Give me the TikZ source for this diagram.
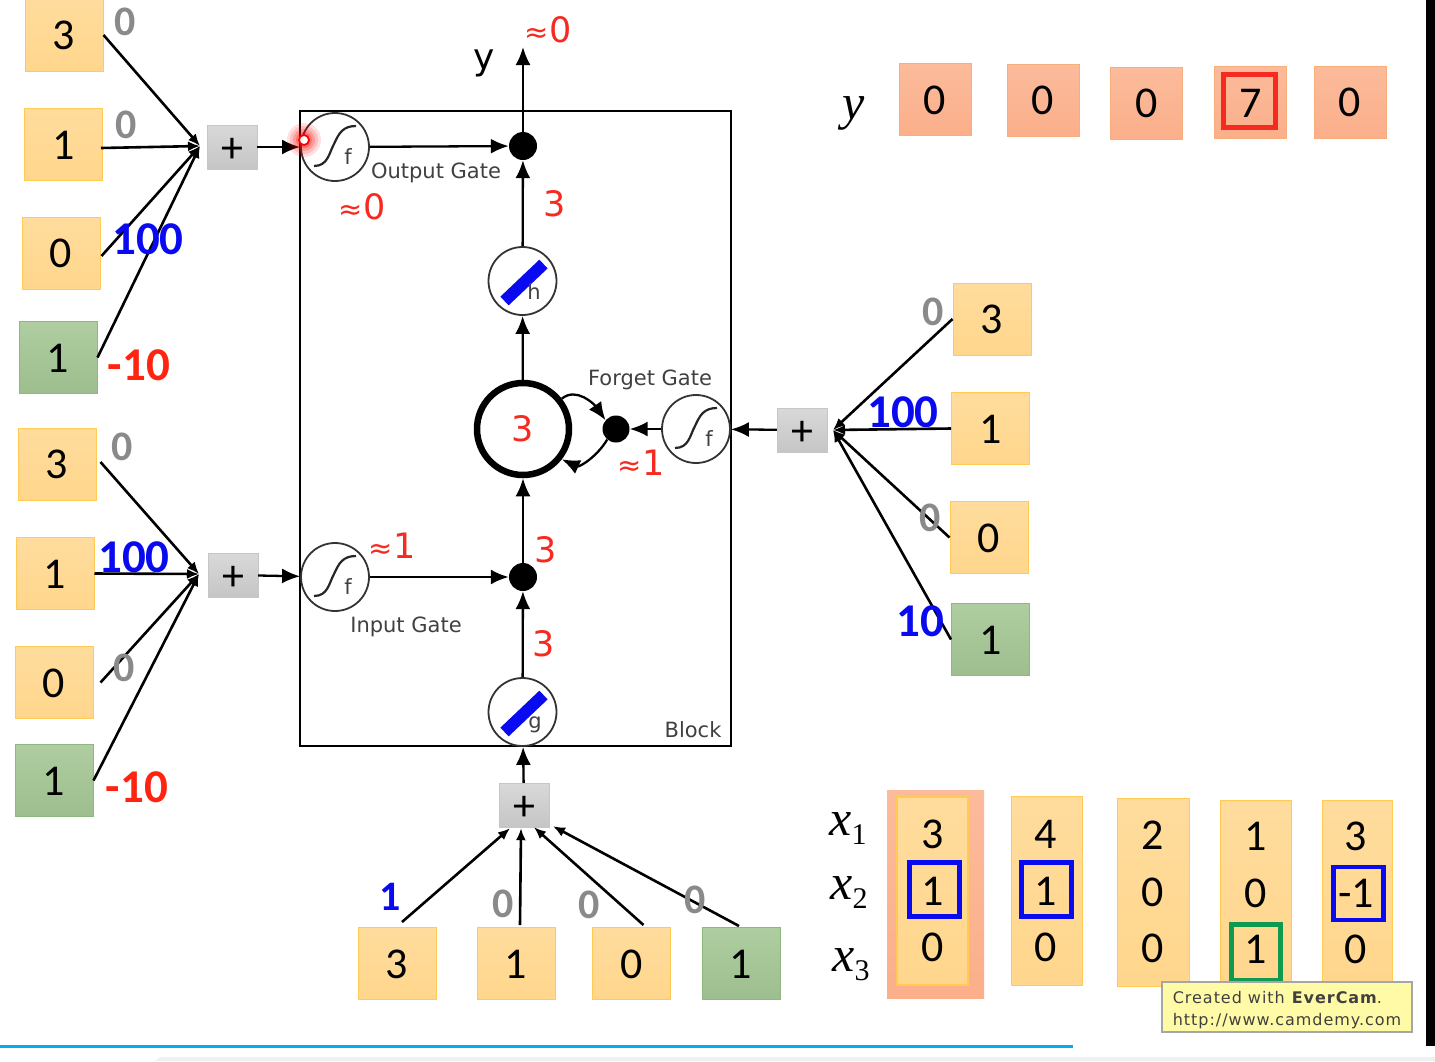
\documentclass[tikz,border=0pt]{standalone}
\usepackage{fontspec}
\setmainfont{Carlito}
\newfontfamily\dejafont{DejaVu Sans}
\newfontfamily\markfont[LetterSpace=6]{DejaVu Sans}
\newfontfamily\varfont{Liberation Serif}
\usetikzlibrary{arrows.meta,calc}
\definecolor{yelfill}{HTML}{FFD68C}
\definecolor{yelline}{HTML}{FFCB55}
\definecolor{grnfill}{HTML}{A6C896}
\definecolor{grnline}{HTML}{8FB880}
\definecolor{salfill}{HTML}{FBAF8A}
\definecolor{salline}{HTML}{F6AE7C}
\definecolor{pointred}{HTML}{F52A20}
\definecolor{wgtgray}{HTML}{8A8A8A}
\definecolor{wgtblue}{HTML}{0A0AF0}
\definecolor{wgtred}{HTML}{FF2410}
\definecolor{boxgreen}{HTML}{0F9A50}
\definecolor{rulecyan}{HTML}{00AEEF}
\newcommand{\aprx}{{\fontsize{29}{29}\selectfont ≈}}
\newcommand{\varsub}[1]{\textit{x}\raisebox{-9pt}{\fontsize{30}{30}\selectfont #1}}
\tikzset{
  numbox/.style={minimum width=78pt, minimum height=72pt, inner sep=0pt, line width=1pt, text height=30pt,
    font=\fontsize{44}{44}\selectfont},
  yelbox/.style={numbox, draw=yelline, top color=yelfill!85!white, bottom color=yelfill},
  grnbox/.style={numbox, draw=grnline, top color=grnfill!90!white, bottom color=grnfill!95!black},
  salbox/.style={numbox, draw=salline, minimum width=72pt, top color=salfill!85!white, bottom color=salfill},
  addbox/.style={draw=gray!45, top color=gray!30, bottom color=gray!45, minimum width=50pt, minimum height=44pt,
    inner sep=0pt, text height=30pt, text depth=0pt, font=\fontsize{44}{44}\selectfont},
  gatecirc/.style={circle, draw=black!80, fill=white, line width=1.8pt, minimum size=68pt, inner sep=0pt},
  dotnode/.style={circle, fill=black, minimum size=28pt, inner sep=0pt},
  cellcirc/.style={circle, draw=black, fill=white, line width=6.5pt, minimum size=92pt, inner sep=0pt},
  line/.style={draw=black, line width=2.6pt, -{Latex[length=12pt,width=10pt]}},
  thinline/.style={draw=black, line width=2.3pt, -{Latex[length=18pt,width=15pt]}},
  wgt/.style={font=\fontsize{42}{42}\selectfont\bfseries, inner sep=0pt},
  wgtwide/.style={font=\fontsize{47}{47}\selectfont\bfseries, inner sep=0pt},
  redtxt/.style={text=pointred, font=\dejafont\fontsize{35}{35}\selectfont, inner sep=0pt},
  gatetxt/.style={text=black!75, font=\dejafont\fontsize{21}{21}\selectfont, inner sep=0pt},
  digit/.style={font=\fontsize{44}{44}\selectfont, inner sep=0pt},
  varlab/.style={font=\varfont\fontsize{50}{50}\selectfont, inner sep=0pt},
  sigm/.pic={
    \draw[line width=2.2pt, black!85] (-21,19) .. controls (-7,19) and (-6,6) .. (-1,-3) .. controls (4,-14) and (8,-21) .. (21,-21);
    \node[gatetxt] at (13,10) {f};
  },
  linbar/.pic={
    \draw[line width=12pt, wgtblue] (-18,20) -- (21,-17);
  }
}
\begin{document}
\begin{tikzpicture}[x=1pt, y=-1pt]
  \useasboundingbox (0,0) rectangle (1435,1061);
  % window edges
  \fill[black] (1426,0) rectangle (1435,1046);
  \fill[gray!12] (155,1061) -- (160,1057) -- (1435,1057) -- (1435,1061) -- cycle;
  \fill[rulecyan] (0,1045) rectangle (1073,1047.5);

  % block and gates
  \node[draw=black, line width=2.8pt, minimum width=431pt, minimum height=635pt, inner sep=0pt] (block) at (515.5,428.5) {};
  \node[gatecirc] (outf) at (335,147) {};
  \node[gatecirc] (inf) at (335,577) {};
  \node[gatecirc] (forf) at (696,429) {};
  \node[gatecirc] (hact) at (522.5,281) {};
  \node[gatecirc] (gact) at (522.5,712) {};
  \pic at (outf) {sigm};
  \pic at (inf) {sigm};
  \pic at (forf) {sigm};
  \pic at (hact) {linbar};
  \pic at (gact) {linbar};
  \node[gatetxt] (hlab) at (534,292) {h};
  \node[gatetxt] (glab) at (535,725) {g};
  \node[dotnode] (outdot) at (523,146) {};
  \node[dotnode] (indot) at (523,577) {};
  \node[dotnode, minimum size=27pt] (fordot) at (616,429) {};
  \node[cellcirc] (cell) at (523,429) {};
  \node[redtxt] (cellval) at (523,429) {3};
  \coordinate (ytop) at (523,47);

  % adders
  \node[addbox] (addout) at (232,147) {+};
  \node[addbox] (addin) at (233,575) {+};
  \node[addbox] (addfor) at (802,430) {+};
  \node[addbox] (addcell) at (524,805) {+};
  \coordinate (joinout) at (200,146);
  \coordinate (joinin) at (199,574);
  \coordinate (joinfor) at (833,430);

  % input boxes, output gate
  \node[yelbox] (oa) at (64,35) {3};
  \node[yelbox] (ob) at (63.5,144) {1};
  \node[yelbox] (oc) at (61,253) {0};
  \node[grnbox] (od) at (58,357.5) {1};
  % input boxes, input gate
  \node[yelbox] (ia) at (57,464) {3};
  \node[yelbox] (ib) at (55,573.5) {1};
  \node[yelbox] (ic) at (54,682.5) {0};
  \node[grnbox] (id) at (54,780.5) {1};
  % input boxes, forget gate
  \node[yelbox] (fa) at (992,319) {3};
  \node[yelbox] (fb) at (990.5,428.5) {1};
  \node[yelbox] (fc) at (989,537.5) {0};
  \node[grnbox] (fd) at (990.5,639.5) {1};
  % input boxes, cell
  \node[yelbox] (ca) at (397,963.5) {3};
  \node[yelbox] (cb) at (516,963.5) {1};
  \node[yelbox] (cc) at (631.5,963.5) {0};
  \node[grnbox] (cd) at (741,963.5) {1};

  % connectors
  \draw[line] (oa.east) -- (joinout);
  \draw[line] ($(ob.east)+(-2,4)$) -- (joinout);
  \draw[line] ($(oc.east)+(1,3)$) -- (joinout);
  \draw[line] (od.east) -- (joinout);
  \draw[line] ($(ia.east)+(4,-2)$) -- (joinin);
  \draw[line] (ib.east) -- (joinin);
  \draw[line] ($(ic.east)+(7,0)$) -- (joinin);
  \draw[line] (id.east) -- (joinin);
  \foreach \a in {fa,fb,fc,fd} \draw[line] (\a.west) -- (joinfor);
  \draw[line] ($(ca.north)+(5,-5)$) -- ($(addcell.south)+(-14,1)$);
  \draw[line] ($(cb.north)+(4,-2)$) -- ($(addcell.south)+(-3,1)$);
  \draw[line] ($(cc.north)+(12,-2)$) -- ($(addcell.south)+(10,0)$);
  \draw[line] ($(cd.north)+(-2,-1)$) -- ($(addcell.south)+(29,-1)$);
  \draw[thinline] (addout) -- (outf);
  \draw[thinline] (addin) -- (inf);
  \draw[thinline] (addfor) -- (forf);
  \draw[thinline] (addcell) -- (gact);
  \draw[thinline] (outf) -- (outdot);
  \draw[thinline] (inf) -- (indot);
  \draw[thinline] (forf) -- (fordot);
  \draw[thinline] (hact) -- (outdot);
  \draw[thinline] (cell) -- (hact);
  \draw[thinline] (indot) -- (cell);
  \draw[thinline] (gact) -- (indot);
  \draw[thinline] (outdot) -- (ytop);
  \draw[thinline] (cell.38) to[out=40, in=125] (fordot.140);
  \draw[thinline] (fordot.230) to[out=240, in=-25] (cell.322);

  % pointer spot
  \foreach \r/\o in {17/.12,14/.15,11/.2,8/.25} \fill[red, opacity=\o] (304,140) circle (\r);
  \node[circle, draw=red, line width=1.8pt, fill=white, minimum size=10pt, inner sep=0pt] (spot) at (304,140) {};

  % gate labels
  \node[gatetxt] (outlab) at (436,173) {Output Gate};
  \node[gatetxt] (inlab) at (406,627) {Input Gate};
  \node[gatetxt] (forlab) at (650,380) {Forget Gate};
  \node[gatetxt] (blocklab) at (693,730) {Block};
  \node[font=\dejafont\fontsize{36}{36}\selectfont, inner sep=0pt] (ylab) at (484,63) {y};

  % red values
  \node[redtxt] (v1) at (548,30) {\aprx 0};
  \node[redtxt] (v2) at (362,207) {\aprx 0};
  \node[redtxt] (v3) at (555,204) {3};
  \node[redtxt] (v4) at (641,463) {\aprx 1};
  \node[redtxt] (v5) at (392,546) {\aprx 1};
  \node[redtxt] (v6) at (546,550) {3};
  \node[redtxt] (v7) at (544,644) {3};

  % weights
  \node[wgt, text=wgtgray] (w1) at (125,22) {0};
  \node[wgt, text=wgtgray] (w2) at (126,125) {0};
  \node[wgtwide, text=wgtblue] (w3) at (148,239) {100};
  \node[wgtwide, text=wgtred] (w4) at (139,365) {-10};
  \node[wgt, text=wgtgray] (w5) at (122,447) {0};
  \node[wgtwide, text=wgtblue] (w6) at (134,557) {100};
  \node[wgt, text=wgtgray] (w7) at (124,668) {0};
  \node[wgtwide, text=wgtred] (w8) at (137,787) {-10};
  \node[wgt, text=wgtgray] (w9) at (933,312) {0};
  \node[wgtwide, text=wgtblue] (w10) at (903,412) {100};
  \node[wgt, text=wgtgray] (w11) at (930,518) {0};
  \node[wgtwide, text=wgtblue] (w12) at (920,621) {10};
  \node[wgt, text=wgtblue] (w13) at (390,897) {1};
  \node[wgt, text=wgtgray] (w14) at (503,904) {0};
  \node[wgt, text=wgtgray] (w15) at (589,905) {0};
  \node[wgt, text=wgtgray] (w16) at (695,900) {0};

  % output sequence
  \node[varlab] (yseq) at (854,113) {\textit{y}};
  \node[salbox] (ya) at (935,99.5) {0};
  \node[salbox] (yb) at (1043,100) {0};
  \node[salbox] (yc) at (1146.5,103) {0};
  \node[salbox] (yd) at (1250.5,102) {7};
  \node[salbox] (ye) at (1350,102) {0};
  \node[draw=pointred, line width=4.5pt, minimum width=52pt, minimum height=53pt, inner sep=0pt] (ymark) at (1249.5,101) {};

  % input sequence
  \node[top color=salfill!85!white, bottom color=salfill, minimum width=97pt, minimum height=208pt, inner sep=0pt] (colback) at (935.5,894) {};
  \node[yelbox, minimum width=71pt, minimum height=188pt, line width=1.5pt] (cola) at (932.5,891) {};
  \node[yelbox, minimum width=71pt, minimum height=189pt] (colb) at (1046.5,890.5) {};
  \node[yelbox, minimum width=72pt, minimum height=188pt] (colc) at (1153,892) {};
  \node[yelbox, minimum width=71pt, minimum height=188pt] (cold) at (1255.5,894) {};
  \node[yelbox, minimum width=70pt, minimum height=188pt] (cole) at (1357,894) {};
  \foreach \nm/\xx/\dy/\da/\db/\dc in {a/933/0/3/1/0,b/1046/0/4/1/0,c/1153/1/2/0/0,d/1256/2/1/0/1,e/1356/2/3/-1/0}{
    \node[digit] (d\nm1) at (\xx,834+\dy) {\da};
    \node[digit] (d\nm2) at (\xx,891+\dy) {\db};
    \node[digit] (d\nm3) at (\xx,947+\dy) {\dc};
  }
  \node[draw=wgtblue, line width=4.5pt, minimum width=50pt, minimum height=54pt, inner sep=0pt] (mka) at (934.5,889.5) {};
  \node[draw=wgtblue, line width=4.5pt, minimum width=50pt, minimum height=54pt, inner sep=0pt] (mkb) at (1046.5,889.5) {};
  \node[draw=wgtblue, line width=4.5pt, minimum width=50pt, minimum height=53pt, inner sep=0pt] (mke) at (1358.5,893.5) {};
  \node[draw=boxgreen, line width=4.5pt, minimum width=49pt, minimum height=56pt, inner sep=0pt] (mkd) at (1256,952.5) {};
  \node[varlab] (xa) at (848,829) {\varsub{1}};
  \node[varlab] (xb) at (849,893) {\varsub{2}};
  \node[varlab] (xc) at (851,965) {\varsub{3}};

  % watermark
  \node[draw=gray!70, line width=1.5pt, fill=yellow!35, minimum width=250pt, minimum height=50pt, inner sep=0pt] (mark) at (1287,1007) {};
  \node[align=left, font=\markfont\fontsize{16}{22}\selectfont, text=black!75, inner sep=0pt] (marktxt) at (1287,1010)
    {Created with \textbf{EverCam}.\\http://www.camdemy.com};
\end{tikzpicture}
\end{document}
